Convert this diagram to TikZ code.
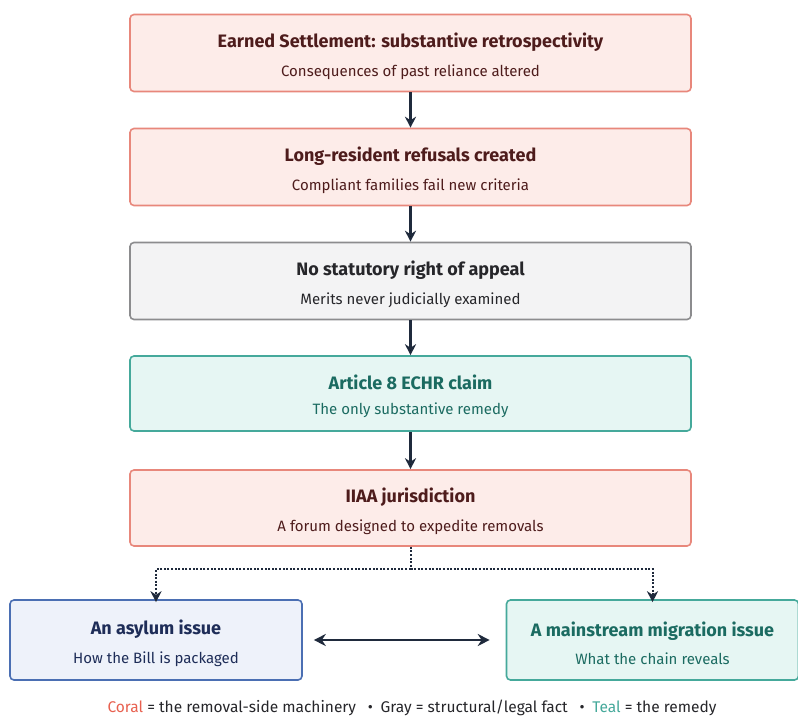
\documentclass[tikz,border=0pt]{standalone}
\usepackage{fontspec}
\setmainfont{Fira Sans}
\usetikzlibrary{arrows.meta,positioning}

\definecolor{coralfill}{HTML}{FDECE9}
\definecolor{coralline}{HTML}{E8877B}
\definecolor{coraltext}{HTML}{4E1C1C}
\definecolor{coralword}{HTML}{E8604F}
\definecolor{grayfill}{HTML}{F3F3F4}
\definecolor{grayline}{HTML}{8C8C8E}
\definecolor{graytext}{HTML}{26262A}
\definecolor{tealfill}{HTML}{E6F6F3}
\definecolor{tealline}{HTML}{45A99B}
\definecolor{tealtext}{HTML}{1B6B61}
\definecolor{bluefill}{HTML}{EEF2FA}
\definecolor{blueline}{HTML}{4B6FB3}
\definecolor{bluetext}{HTML}{1E2D58}
\definecolor{arrowcol}{HTML}{1F2A3C}

\newcommand{\boxtext}[2]{{\bfseries\fontsize{18}{21}\selectfont\rule{0pt}{21pt}#1}\\[12pt]{\fontsize{15}{18}\selectfont #2}}

\tikzset{
  stepbox/.style={rectangle, rounded corners=4pt, line width=1.6pt,
    minimum width=561pt, minimum height=77pt, align=center, inner sep=0pt},
  coralbox/.style={stepbox, draw=coralline, fill=coralfill, text=coraltext},
  graybox/.style={stepbox, draw=grayline, fill=grayfill, text=graytext},
  tealbox/.style={stepbox, draw=tealline, fill=tealfill, text=tealtext},
  sidebox/.style={stepbox, minimum width=292pt, minimum height=80pt},
  flow/.style={draw=arrowcol, line width=2.2pt, -{Stealth[length=11pt,width=11pt]}},
  dots/.style={draw=arrowcol, line width=2pt, dash pattern=on 2pt off 1.6pt},
  split/.style={dots, -{Stealth[length=11pt,width=11pt]}},
}

\begin{document}
\begin{tikzpicture}[x=1pt,y=-1pt]
  \useasboundingbox[fill=white] (0,0) rectangle (798,717);

  % main chain
  \node[coralbox] (settle) at (410.5,53) {\boxtext{Earned Settlement: substantive retrospectivity}{Consequences of past reliance altered}};
  \node[coralbox] (refuse) at (410.5,167) {\boxtext{Long-resident refusals created}{Compliant families fail new criteria}};
  \node[graybox] (appeal) at (410.5,281) {\boxtext{No statutory right of appeal}{Merits never judicially examined}};
  \node[tealbox, minimum height=75pt] (art8) at (410.5,393.5) {\boxtext{Article 8 ECHR claim}{The only substantive remedy}};
  \node[coralbox, minimum height=76pt] (iiaa) at (410.5,508) {\boxtext{IIAA jurisdiction}{A forum designed to expedite removals}};

  % two readings
  \node[sidebox, draw=blueline, fill=bluefill, text=bluetext] (asylum) at (156,640) {\boxtext{An asylum issue}{How the Bill is packaged}};
  \node[sidebox, draw=tealline, fill=tealfill, text=tealtext] (mainstream) at (652.5,640) {\boxtext{A mainstream migration issue}{What the chain reveals}};

  \path[flow]
    (settle) edge (refuse)
    (refuse) edge (appeal)
    (appeal) edge (art8)
    (art8) edge (iiaa);

  \coordinate (fork) at ([yshift=-22pt]iiaa.south);
  \draw[dots] (iiaa.south) -- (fork);
  \draw[split] (fork) -| ([yshift=-3pt]asylum.north);
  \draw[split] (fork) -| ([yshift=-3pt]mainstream.north);

  \draw[draw=arrowcol, line width=2.6pt, {Stealth[length=12pt,width=12pt]}-{Stealth[length=12pt,width=12pt]},
    shorten <=11pt, shorten >=16pt] (asylum) -- (mainstream);

  % legend
  \node[text=graytext, font=\fontsize{15.5}{18}\selectfont] (legend) at (412,708)
    {\textcolor{coralword}{Coral} = the removal-side machinery \enspace\textbullet\enspace Gray = structural/legal fact \enspace\textbullet\enspace \textcolor{tealline}{Teal} = the remedy};
\end{tikzpicture}
\end{document}
